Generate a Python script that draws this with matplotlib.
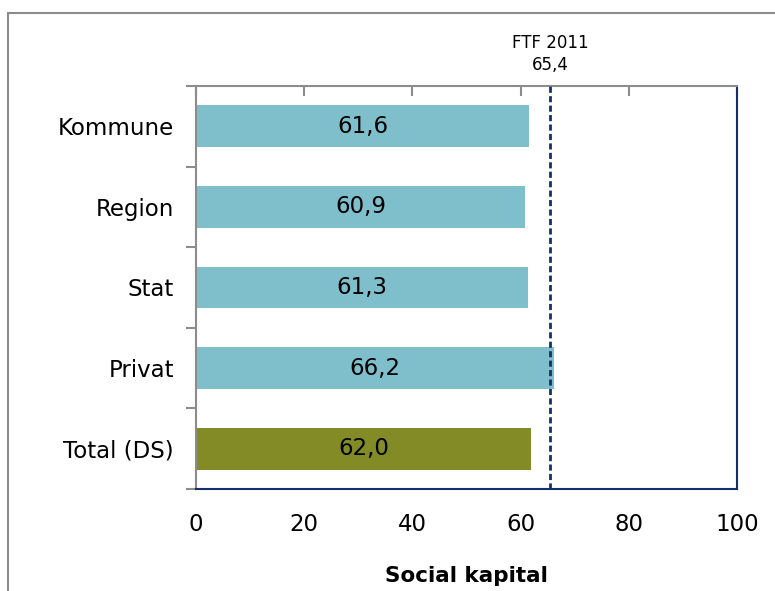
import matplotlib.pyplot as plt
from matplotlib.patches import Rectangle

categories = ["Kommune", "Region", "Stat", "Privat", "Total (DS)"]
values = [61.6, 60.9, 61.3, 66.2, 62.0]
bar_colors = ["#7fbfcc", "#7fbfcc", "#7fbfcc", "#7fbfcc", "#838b26"]
ref_value = 65.4
ref_label = "FTF 2011"
x_ticks = [0, 20, 40, 60, 80, 100]

navy = "#14306b"
grey = "#8c8c8c"


def fmt(v):
    return f"{v:.1f}".replace(".", ",")


fig = plt.figure(figsize=(7.75, 5.91), dpi=100)
ax = fig.add_axes([0.2529, 0.1726, 0.6981, 0.6819])

ypos = list(range(len(categories)))
bars = ax.barh(ypos, values, height=0.52, color=bar_colors, zorder=2)
for b, v in zip(bars, values):
    ax.text(v / 2, b.get_y() + b.get_height() / 2, fmt(v), ha="center",
            va="center", fontsize=16.5, color="black", zorder=4)

ax.axvline(ref_value, color=navy, lw=2, ls=(0, (2.2, 1.2)), zorder=3)
ax.text(ref_value, 1.03, f"{ref_label}\n{fmt(ref_value)}", transform=ax.get_xaxis_transform(),
        ha="center", va="bottom", fontsize=12, linespacing=1.25)

ax.set_xlim(0, 100)
ax.set_ylim(len(categories) - 0.5, -0.5)

# category labels on the left, boundary ticks on the spine
ax.set_yticks(ypos)
ax.set_yticklabels(categories, fontsize=16.5)
ax.set_yticks([i - 0.5 for i in range(len(categories) + 1)], minor=True)
ax.tick_params(axis="y", which="major", length=0, pad=16)
ax.tick_params(axis="y", which="minor", length=7, color=grey, width=1.5, direction="out")

ax.set_xticks(x_ticks)
ax.set_xticklabels([str(t) for t in x_ticks], fontsize=16.5)
ax.tick_params(axis="x", bottom=False, top=True, direction="in", length=7,
               color=grey, width=1.5, pad=17)
ax.set_xlabel("Social kapital", fontsize=15.5, fontweight="bold", labelpad=22)

ax.spines["left"].set_color(grey)
ax.spines["left"].set_linewidth(1.5)
ax.spines["top"].set_color(grey)
ax.spines["top"].set_linewidth(1.5)
ax.spines["right"].set_color(navy)
ax.spines["right"].set_linewidth(1.5)
ax.spines["bottom"].set_color(navy)
ax.spines["bottom"].set_linewidth(1.5)

# outer chart frame
fig.patches.append(Rectangle((8 / 775, -0.1), 1.2, 1 - 13 / 591 + 0.1, transform=fig.transFigure,
                             fill=False, edgecolor=grey, lw=1.5))

fig.savefig("out.png", dpi=100)
